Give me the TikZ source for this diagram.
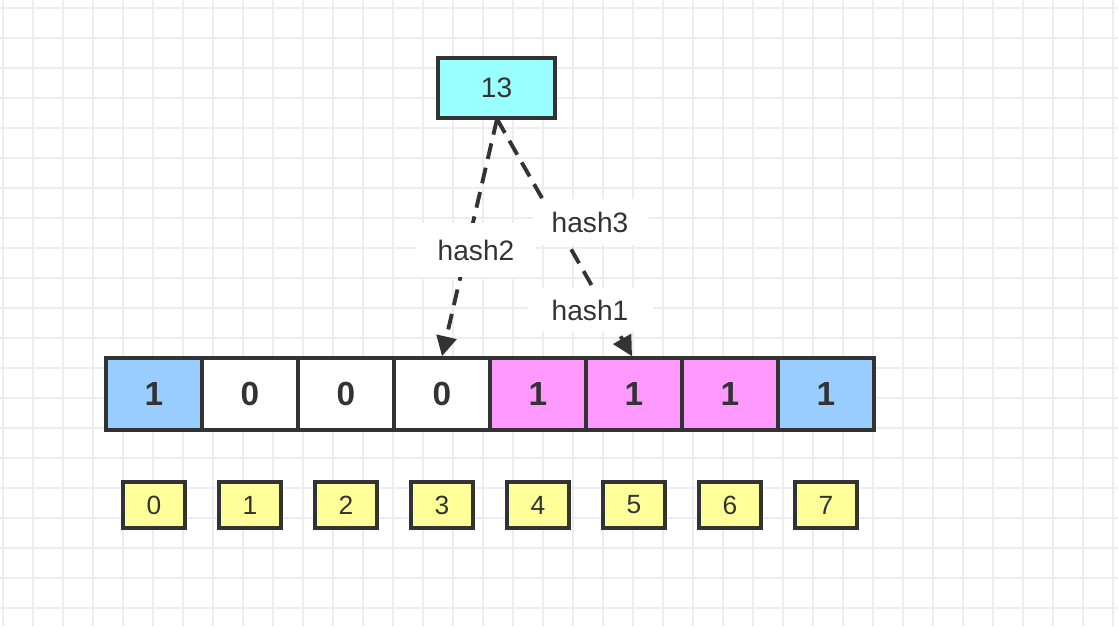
\documentclass[tikz,border=0pt]{standalone}
\usepackage{fontspec}
\setmainfont{Liberation Sans}
\usetikzlibrary{arrows.meta,calc}
\definecolor{ln}{HTML}{333333}
\definecolor{cblue}{HTML}{99CCFF}
\definecolor{cpink}{HTML}{FF99FF}
\definecolor{cyel}{HTML}{FFFF99}
\definecolor{ccyan}{HTML}{99FFFF}
\definecolor{gridc}{HTML}{EDEDED}
\newcommand{\pu}{*0.02cm}
\tikzset{
 cell/.style={draw=ln,line width=2pt,minimum width=96\pu,minimum height=72\pu,font=\bfseries\fontsize{19}{19}\selectfont,text=ln,inner sep=0},
 idx/.style={draw=ln,line width=2pt,fill=cyel,minimum width=62\pu,minimum height=46\pu,font=\fontsize{15}{15}\selectfont,text=ln,inner sep=0},
 lbl/.style={fill=white,font=\fontsize{16}{16}\selectfont,text=ln,inner sep=10\pu},
 arr/.style={draw=ln,line width=2.2pt,dash pattern=on 16\pu off 9\pu,-{Triangle[length=20\pu,width=20\pu]}}
}
\begin{document}
\begin{tikzpicture}[x=0.02cm,y=-0.02cm]
\useasboundingbox (0,0) rectangle (1118,626);
\fill[white] (0,0) rectangle (1118,626);
\foreach \i in {0,...,37} \draw[gridc,line width=0.8pt] (3+30*\i,0) -- (3+30*\i,626);
\foreach \j in {0,...,20} \draw[gridc,line width=0.8pt] (0,8+30*\j) -- (1118,8+30*\j);
\node[draw=ln,line width=2pt,fill=ccyan,minimum width=117\pu,minimum height=60\pu,font=\fontsize{16}{16}\selectfont,text=ln] (t) at (496.5,88) {13};
\foreach \v/\c [count=\k from 0] in {1/cblue,0/white,0/white,0/white,1/cpink,1/cpink,1/cpink,1/cblue} {
 \node[cell,fill=\c] (c\k) at (154+96*\k,394) {\v};
 \node[idx] (i\k) at (154+96*\k,505) {\k};
}
\coordinate (s) at (497,119);
\coordinate (e5) at ($(c5.north)+(-2,0)$);
\draw[arr] (s) -- (c3.north);
\draw[arr] (s) -- (e5);
\node[lbl,minimum width=120\pu,minimum height=54\pu] (h2) at (476,250) {hash2};
\node[lbl,minimum width=115\pu,minimum height=46\pu] (h3) at (590,222) {hash3};
\node[lbl,minimum width=125\pu,minimum height=44\pu] (h1) at (590,310) {hash1};
\end{tikzpicture}
\end{document}
